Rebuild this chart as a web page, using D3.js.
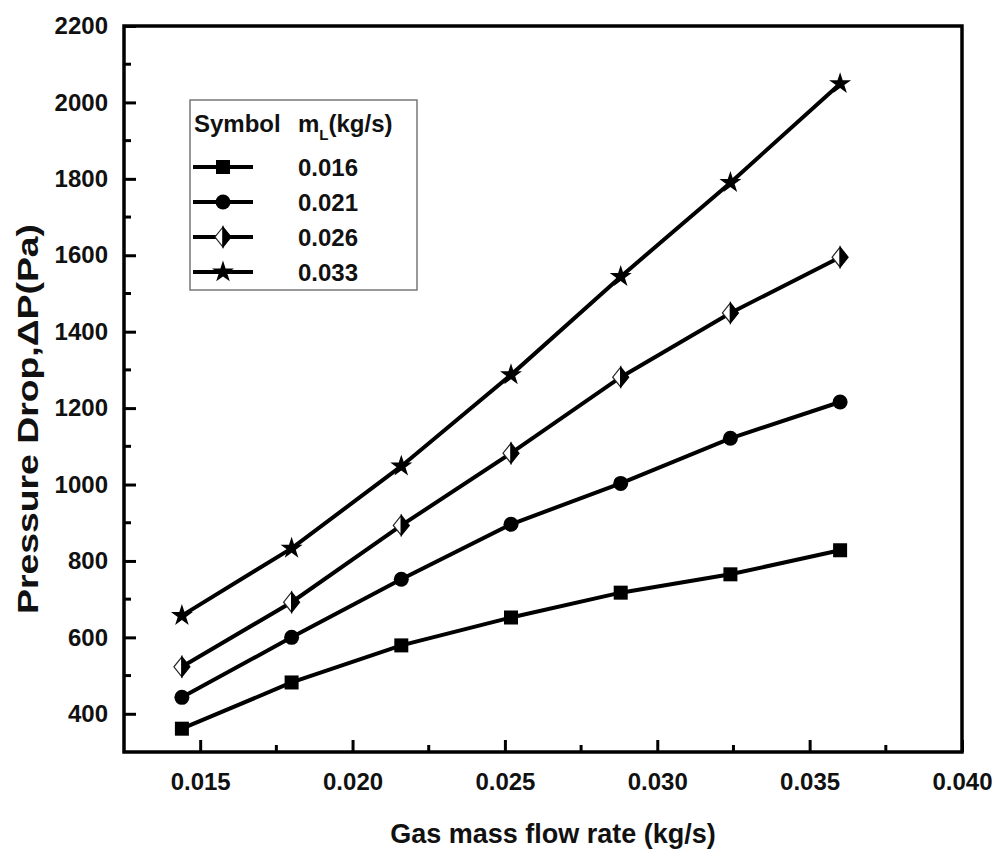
<!DOCTYPE html>
<html>
<head>
<meta charset="utf-8">
<script src="https://cdn.jsdelivr.net/npm/d3@7"></script>
<style>
    body { margin: 0; background: #fff; }
    svg { display: block; font-family: "Liberation Sans", Arial, sans-serif; font-weight: bold; }
</style>
</head>
<body>
<div id="chart"></div>
<script>
// gas mass flow rate (kg/s)
const gasFlow = [0.0144, 0.018, 0.0216, 0.0252, 0.0288, 0.0324, 0.036];

// pressure drop (Pa) for each liquid flow rate
const liquidRates = ["0.016", "0.021", "0.026", "0.033"];
const dp016 = [361, 482, 579, 652, 717, 765, 828];
const dp021 = [443, 600, 752, 896, 1003, 1121, 1216];
const dp026 = [523, 692, 893, 1082, 1281, 1449, 1595];
const dp033 = [657, 833, 1048, 1287, 1544, 1790, 2049];
const markers = ["square", "circle", "diamond", "star"];

const xTicks = [0.015, 0.020, 0.025, 0.030, 0.035, 0.040];
const yTicks = [400, 600, 800, 1000, 1200, 1400, 1600, 1800, 2000, 2200];

const width = 997, height = 857;
const margin = {left: 124, right: 35, top: 26, bottom: 105};

const svg = d3.select("#chart").append("svg")
    .attr("width", width)
    .attr("height", height);

const x = d3.scaleLinear().domain([0.0125, 0.040]).range([margin.left, width - margin.right]);
const y = d3.scaleLinear().domain([300, 2200]).range([height - margin.bottom, margin.top]);

const series = [dp016, dp021, dp026, dp033].map((vals, i) => ({
    name: liquidRates[i],
    marker: markers[i],
    points: vals.map((v, j) => [gasFlow[j], v])
}));

function drawMarker(g, type) {
    if (type === "square") {
        g.append("rect").attr("x", -7).attr("y", -7).attr("width", 14).attr("height", 14).attr("fill", "#000");
    } else if (type === "circle") {
        g.append("circle").attr("r", 7.5).attr("fill", "#000");
    } else if (type === "diamond") {
        g.append("path").attr("d", "M0,-10 L-8,0 L0,10 Z").attr("fill", "#fff").attr("stroke", "#222").attr("stroke-width", 1.2);
        g.append("path").attr("d", "M0,-10 L8,0 L0,10 Z").attr("fill", "#000").attr("stroke", "#000").attr("stroke-width", 1.2);
    } else {
        g.append("path").attr("d", d3.symbol(d3.symbolStar, 150)()).attr("fill", "#000");
    }
}

// axes (ticks point inward)
const xAxis = svg.append("g")
    .attr("transform", `translate(0,${y.range()[0]})`)
    .call(d3.axisBottom(x).tickValues(xTicks).tickFormat(d3.format(".3f")).tickSize(-12).tickPadding(21));
xAxis.select(".domain").remove();

const yAxis = svg.append("g")
    .attr("transform", `translate(${x.range()[0]},0)`)
    .call(d3.axisLeft(y).tickValues(yTicks).tickFormat(d3.format("d")).tickSize(-12).tickPadding(16));
yAxis.select(".domain").remove();

// minor ticks
const xMinor = d3.range(0.0175, 0.040, 0.005);
svg.append("g").selectAll("line").data(xMinor).join("line")
    .attr("x1", d => x(d)).attr("x2", d => x(d))
    .attr("y1", y.range()[0]).attr("y2", y.range()[0] - 7)
    .attr("stroke", "#000").attr("stroke-width", 3);
const yMinor = d3.range(500, 2200, 200);
svg.append("g").selectAll("line").data(yMinor).join("line")
    .attr("x1", x.range()[0]).attr("x2", x.range()[0] + 7)
    .attr("y1", d => y(d)).attr("y2", d => y(d))
    .attr("stroke", "#000").attr("stroke-width", 3);

svg.selectAll(".tick line").attr("stroke", "#000").attr("stroke-width", 3);
svg.selectAll(".tick text").attr("fill", "#111")
    .style("font-size", "24px")
    .style("font-family", "'Liberation Sans', Arial, sans-serif").style("font-weight", "bold");

// frame
svg.append("rect")
    .attr("x", x.range()[0]).attr("y", y.range()[1])
    .attr("width", x.range()[1] - x.range()[0])
    .attr("height", y.range()[0] - y.range()[1])
    .attr("fill", "none").attr("stroke", "#000").attr("stroke-width", 3.5);

// lines and markers
const line = d3.line().x(d => x(d[0])).y(d => y(d[1]));
series.forEach(s => {
    svg.append("path").datum(s.points)
        .attr("d", line)
        .attr("fill", "none").attr("stroke", "#000").attr("stroke-width", 4);
    s.points.forEach(p => {
        const g = svg.append("g").attr("transform", `translate(${x(p[0])},${y(p[1])})`);
        drawMarker(g, s.marker);
    });
});

// legend
const lg = svg.append("g").attr("transform", "translate(190,100)");
lg.append("rect").attr("width", 227).attr("height", 190)
    .attr("fill", "#fff").attr("stroke", "#777").attr("stroke-width", 1.5);
lg.append("text").attr("x", 4).attr("y", 32).attr("font-size", 24).attr("fill", "#111").text("Symbol");
const ml = lg.append("text").attr("x", 108).attr("y", 32).attr("font-size", 24).attr("fill", "#111");
ml.append("tspan").text("m");
ml.append("tspan").attr("font-size", 15).attr("dy", 8).text("L");
ml.append("tspan").attr("dy", -8).text("(kg/s)");

series.forEach((s, i) => {
    const ry = 67 + i * 35;
    lg.append("line").attr("x1", 3).attr("x2", 63).attr("y1", ry).attr("y2", ry)
        .attr("stroke", "#000").attr("stroke-width", 4);
    drawMarker(lg.append("g").attr("transform", `translate(33,${ry})`), s.marker);
    lg.append("text").attr("x", 108).attr("y", ry + 9).attr("font-size", 24).attr("fill", "#111").text(s.name);
});

// axis titles
svg.append("text")
    .attr("x", 553).attr("y", 843)
    .attr("text-anchor", "middle").attr("font-size", 27).attr("fill", "#111")
    .text("Gas mass flow rate (kg/s)");

svg.append("text")
    .attr("transform", "translate(38,419) rotate(-90)")
    .attr("text-anchor", "middle").attr("font-size", 30).attr("fill", "#111")
    .attr("textLength", 390).attr("lengthAdjust", "spacingAndGlyphs")
    .text("Pressure Drop,\u0394P(Pa)");
</script>
</body>
</html>
